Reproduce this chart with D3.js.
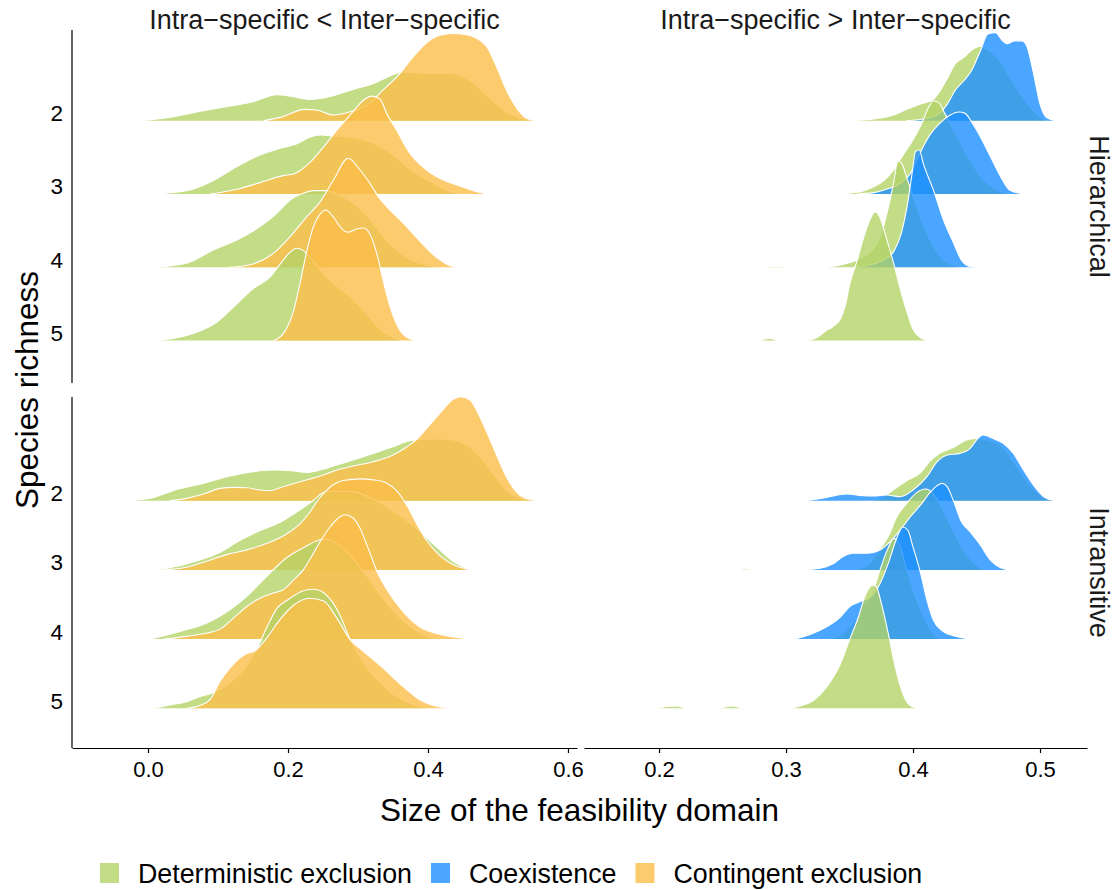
<!DOCTYPE html>
<html><head><meta charset="utf-8">
<script src="https://cdn.jsdelivr.net/npm/d3@7"></script>
<style>body{margin:0;background:#fff}</style>
</head><body>
<svg id="c" width="1114" height="890"></svg>
<script>
// ---------- categories ----------
const richness = ["2","3","4","5"];
const outcomes = ["Deterministic exclusion","Coexistence","Contingent exclusion"];
const facetCols = ["Intra\u2212specific < Inter\u2212specific","Intra\u2212specific > Inter\u2212specific"];
const facetRows = ["Hierarchical","Intransitive"];
const xTicksLt = [0.0,0.2,0.4,0.6];
const xTicksGt = [0.2,0.3,0.4,0.5];
const xTitle = "Size of the feasibility domain";
const yTitle = "Species richness";

// ---------- density curves: [feasibility size, scaled density] ----------
// Hierarchical, Intra < Inter
const hierLtDet2 = [[-0.011,0],[0.031,0.045],[0.079,0.136],[0.117,0.2],[0.150,0.259],[0.184,0.355],[0.208,0.327],[0.231,0.291],[0.255,0.318],[0.293,0.427],[0.322,0.509],[0.341,0.591],[0.360,0.655],[0.374,0.659],[0.403,0.645],[0.433,0.645],[0.450,0.6],[0.465,0.51],[0.480,0.38],[0.496,0.24],[0.512,0.12],[0.528,0.05],[0.548,0]];
const hierLtCont2 = [[0.165,0],[0.189,0.045],[0.224,0.155],[0.241,0.145],[0.265,0.077],[0.293,0.136],[0.317,0.236],[0.331,0.373],[0.360,0.645],[0.379,0.873],[0.398,1.064],[0.417,1.168],[0.436,1.191],[0.455,1.173],[0.470,1.123],[0.484,1.009],[0.498,0.736],[0.512,0.418],[0.527,0.168],[0.541,0.032],[0.555,0]];
const hierLtDet3 = [[0.005,0],[0.055,0.045],[0.093,0.182],[0.127,0.373],[0.160,0.532],[0.189,0.623],[0.212,0.682],[0.231,0.773],[0.246,0.805],[0.265,0.791],[0.293,0.773],[0.322,0.691],[0.350,0.532],[0.379,0.305],[0.408,0.145],[0.431,0.032],[0.450,0]];
const hierLtCont3 = [[0.089,0],[0.127,0.064],[0.160,0.155],[0.193,0.25],[0.208,0.273],[0.217,0.318],[0.231,0.427],[0.251,0.645],[0.270,0.873],[0.293,1.123],[0.308,1.282],[0.320,1.336],[0.331,1.30],[0.341,1.1],[0.355,0.873],[0.374,0.555],[0.398,0.327],[0.422,0.191],[0.441,0.123],[0.465,0.045],[0.484,0]];
const hierLtDet4 = [[0.010,0],[0.055,0.055],[0.093,0.236],[0.127,0.373],[0.160,0.555],[0.184,0.736],[0.203,0.918],[0.222,1.009],[0.236,1.045],[0.250,1.045],[0.274,0.982],[0.298,0.836],[0.322,0.6],[0.341,0.364],[0.365,0.16],[0.389,0.05],[0.417,0]];
const hierLtCont4 = [[0.117,0],[0.150,0.045],[0.179,0.19],[0.203,0.418],[0.227,0.691],[0.246,0.895],[0.265,1.19],[0.286,1.487],[0.303,1.327],[0.317,1.145],[0.329,0.964],[0.341,0.827],[0.365,0.6],[0.389,0.35],[0.412,0.136],[0.436,0.009],[0.442,0]];
const hierLtDet5 = [[0.017,0],[0.055,0.068],[0.098,0.25],[0.127,0.5],[0.150,0.705],[0.174,0.864],[0.189,1.045],[0.203,1.205],[0.212,1.259],[0.222,1.227],[0.231,1.136],[0.255,0.864],[0.284,0.636],[0.308,0.409],[0.331,0.159],[0.355,0.023],[0.364,0]];
const hierLtCont5 = [[0.179,0],[0.193,0.09],[0.208,0.409],[0.217,0.773],[0.227,1.227],[0.236,1.545],[0.246,1.727],[0.254,1.782],[0.265,1.682],[0.277,1.523],[0.286,1.477],[0.298,1.523],[0.308,1.536],[0.317,1.455],[0.327,1.182],[0.336,0.818],[0.346,0.455],[0.360,0.136],[0.374,0.023],[0.384,0]];
// Hierarchical, Intra > Inter
const hierGtDet2 = [[0.348,0],[0.369,0.023],[0.385,0.077],[0.395,0.155],[0.406,0.227],[0.416,0.291],[0.421,0.4],[0.427,0.577],[0.433,0.773],[0.440,0.864],[0.448,0.986],[0.453,1.018],[0.455,1.0],[0.466,0.864],[0.476,0.6],[0.487,0.3],[0.497,0.09],[0.505,0]];
const hierGtCoex2 = [[0.395,0],[0.408,0.023],[0.419,0.077],[0.427,0.227],[0.433,0.409],[0.440,0.545],[0.446,0.682],[0.453,0.95],[0.459,1.182],[0.465,1.2],[0.470,1.1],[0.474,1.05],[0.480,1.09],[0.486,1.09],[0.490,1.0],[0.495,0.636],[0.500,0.227],[0.505,0.045],[0.512,0]];
const hierGtDet3 = [[0.337,0],[0.356,0.023],[0.369,0.1],[0.377,0.182],[0.385,0.336],[0.392,0.527],[0.400,0.741],[0.407,0.968],[0.412,1.173],[0.416,1.268],[0.420,1.25],[0.425,1.1],[0.434,0.8],[0.445,0.455],[0.455,0.2],[0.466,0.055],[0.474,0]];
const hierGtCoex3 = [[0.356,0],[0.369,0.018],[0.379,0.064],[0.390,0.145],[0.398,0.282],[0.403,0.464],[0.408,0.645],[0.413,0.8],[0.421,0.964],[0.429,1.073],[0.436,1.118],[0.441,1.1],[0.446,0.986],[0.453,0.782],[0.461,0.509],[0.469,0.236],[0.476,0.055],[0.487,0]];
const hierGtDet4 = [[0.283,0],[0.292,0.012],[0.300,0],[0.328,0],[0.343,0.032],[0.356,0.1],[0.366,0.2],[0.373,0.364],[0.378,0.636],[0.382,0.927],[0.385,1.182],[0.388,1.45],[0.391,1.418],[0.395,1.227],[0.402,0.864],[0.410,0.5],[0.419,0.2],[0.429,0.045],[0.437,0]];
const hierGtCoex4 = [[0.353,0],[0.366,0.03],[0.377,0.1],[0.385,0.22],[0.391,0.48],[0.396,0.9],[0.399,1.25],[0.402,1.58],[0.405,1.6],[0.408,1.42],[0.416,1.055],[0.424,0.645],[0.432,0.327],[0.438,0.1],[0.445,0.009],[0.450,0]];
const hierGtDet5 = [[0.280,0],[0.287,0.03],[0.295,0],[0.316,0],[0.324,0.036],[0.331,0.127],[0.337,0.191],[0.343,0.3],[0.347,0.5],[0.350,0.755],[0.356,1.091],[0.361,1.4],[0.366,1.645],[0.370,1.755],[0.374,1.68],[0.379,1.4],[0.385,1.036],[0.390,0.7],[0.395,0.4],[0.400,0.155],[0.406,0.036],[0.411,0]];
// Intransitive, Intra < Inter
const intrLtDet2 = [[-0.026,0],[0.008,0.048],[0.041,0.164],[0.079,0.25],[0.117,0.356],[0.150,0.419],[0.179,0.443],[0.208,0.429],[0.227,0.409],[0.246,0.443],[0.270,0.515],[0.293,0.588],[0.322,0.684],[0.350,0.78],[0.374,0.867],[0.389,0.886],[0.417,0.891],[0.436,0.877],[0.455,0.805],[0.474,0.636],[0.493,0.395],[0.512,0.154],[0.531,0.034],[0.550,0]];
const intrLtCont2 = [[0.031,0],[0.055,0.034],[0.079,0.096],[0.103,0.178],[0.122,0.193],[0.141,0.188],[0.160,0.154],[0.174,0.145],[0.193,0.202],[0.217,0.275],[0.246,0.356],[0.270,0.443],[0.293,0.501],[0.322,0.564],[0.350,0.66],[0.370,0.78],[0.384,0.886],[0.398,1.045],[0.417,1.262],[0.436,1.464],[0.446,1.503],[0.460,1.455],[0.474,1.214],[0.493,0.78],[0.512,0.347],[0.531,0.082],[0.550,0.01],[0.565,0]];
const intrLtDet3 = [[0.012,0],[0.055,0.087],[0.103,0.255],[0.131,0.424],[0.160,0.568],[0.189,0.689],[0.212,0.833],[0.236,1.002],[0.251,1.118],[0.270,1.137],[0.293,1.127],[0.322,1.021],[0.350,0.858],[0.379,0.641],[0.408,0.371],[0.436,0.125],[0.460,0]];
const intrLtCont3 = [[0.022,0],[0.055,0.039],[0.084,0.125],[0.112,0.221],[0.141,0.289],[0.170,0.385],[0.198,0.52],[0.217,0.665],[0.231,0.833],[0.246,1.05],[0.260,1.195],[0.279,1.291],[0.303,1.315],[0.322,1.301],[0.341,1.253],[0.355,1.147],[0.370,0.931],[0.384,0.665],[0.398,0.424],[0.417,0.207],[0.436,0.077],[0.460,0]];
const intrLtDet4 = [[0.003,0],[0.046,0.111],[0.084,0.231],[0.117,0.424],[0.141,0.617],[0.160,0.809],[0.179,1.002],[0.198,1.175],[0.222,1.32],[0.246,1.435],[0.255,1.445],[0.274,1.35],[0.293,1.16],[0.312,0.92],[0.331,0.65],[0.350,0.41],[0.370,0.22],[0.389,0.08],[0.412,0]];
const intrLtCont4 = [[0.022,0],[0.055,0.039],[0.084,0.087],[0.103,0.144],[0.122,0.303],[0.141,0.472],[0.160,0.592],[0.179,0.665],[0.193,0.713],[0.208,0.857],[0.222,1.0],[0.234,1.2],[0.246,1.41],[0.260,1.62],[0.272,1.75],[0.281,1.797],[0.293,1.75],[0.303,1.6],[0.315,1.3],[0.327,0.98],[0.341,0.72],[0.365,0.39],[0.389,0.17],[0.412,0.08],[0.436,0.03],[0.465,0]];
const intrLtDet5 = [[0.008,0],[0.031,0.048],[0.055,0.096],[0.074,0.169],[0.091,0.217],[0.112,0.33],[0.136,0.55],[0.155,0.843],[0.170,1.175],[0.184,1.44],[0.203,1.59],[0.220,1.69],[0.234,1.72],[0.246,1.70],[0.260,1.58],[0.274,1.35],[0.289,0.99],[0.308,0.66],[0.331,0.38],[0.355,0.17],[0.379,0.05],[0.403,0]];
const intrLtCont5 = [[0.055,0],[0.074,0.04],[0.089,0.13],[0.103,0.39],[0.122,0.64],[0.141,0.79],[0.153,0.83],[0.170,1.02],[0.189,1.29],[0.208,1.49],[0.231,1.59],[0.251,1.55],[0.270,1.30],[0.289,0.99],[0.308,0.82],[0.336,0.58],[0.365,0.31],[0.389,0.12],[0.412,0.03],[0.431,0]];
// Intransitive, Intra > Inter
const intrGtDet2 = [[0.369,0],[0.377,0.058],[0.385,0.164],[0.395,0.289],[0.406,0.405],[0.413,0.564],[0.421,0.684],[0.432,0.771],[0.442,0.877],[0.449,0.90],[0.458,0.877],[0.469,0.80],[0.479,0.56],[0.490,0.27],[0.500,0.08],[0.508,0]];
const intrGtCoex2 = [[0.316,0],[0.332,0.048],[0.348,0.096],[0.358,0.077],[0.369,0.067],[0.379,0.082],[0.390,0.058],[0.400,0.154],[0.411,0.347],[0.419,0.563],[0.427,0.66],[0.437,0.684],[0.445,0.756],[0.450,0.877],[0.455,0.949],[0.463,0.90],[0.471,0.828],[0.479,0.684],[0.487,0.443],[0.495,0.222],[0.503,0.058],[0.512,0]];
const intrGtDet3 = [[0.262,0],[0.268,0.015],[0.274,0],[0.353,0],[0.366,0.1],[0.374,0.3],[0.381,0.5],[0.387,0.76],[0.395,0.96],[0.403,1.12],[0.410,1.17],[0.416,1.10],[0.424,0.85],[0.432,0.55],[0.440,0.28],[0.448,0.1],[0.455,0]];
const intrGtCoex3 = [[0.311,0],[0.327,0.024],[0.337,0.087],[0.345,0.193],[0.353,0.241],[0.364,0.241],[0.374,0.289],[0.382,0.409],[0.390,0.578],[0.398,0.77],[0.406,0.94],[0.413,1.108],[0.420,1.23],[0.423,1.25],[0.427,1.20],[0.432,0.99],[0.438,0.70],[0.445,0.55],[0.453,0.36],[0.461,0.14],[0.469,0.03],[0.476,0]];
const intrGtDet4 = [[0.206,0],[0.212,0.012],[0.219,0],[0.256,0],[0.264,0.012],[0.272,0],[0.332,0],[0.343,0.06],[0.350,0.18],[0.357,0.32],[0.364,0.52],[0.369,0.71],[0.374,1.0],[0.380,1.3],[0.385,1.455],[0.390,1.33],[0.395,1.0],[0.403,0.56],[0.411,0.23],[0.419,0.03],[0.424,0]];
const intrGtCoex4 = [[0.306,0],[0.319,0.067],[0.332,0.178],[0.343,0.323],[0.350,0.467],[0.358,0.54],[0.366,0.60],[0.374,0.80],[0.381,1.12],[0.387,1.45],[0.392,1.62],[0.396,1.57],[0.400,1.33],[0.406,0.95],[0.411,0.56],[0.416,0.275],[0.423,0.12],[0.432,0.05],[0.442,0.01],[0.448,0]];
const intrGtDet5 = [[0.198,0],[0.213,0.034],[0.224,0],[0.245,0],[0.257,0.034],[0.269,0],[0.301,0],[0.311,0.034],[0.322,0.12],[0.332,0.31],[0.343,0.65],[0.350,0.99],[0.357,1.32],[0.362,1.61],[0.368,1.78],[0.371,1.76],[0.375,1.52],[0.381,1.04],[0.386,0.60],[0.391,0.265],[0.396,0.072],[0.403,0]];

// series table: facet row, facet col, richness, outcome index, curve
const series = [
  [0,0,"2",0,hierLtDet2],[0,0,"2",2,hierLtCont2],[0,0,"3",0,hierLtDet3],[0,0,"3",2,hierLtCont3],
  [0,0,"4",0,hierLtDet4],[0,0,"4",2,hierLtCont4],[0,0,"5",0,hierLtDet5],[0,0,"5",2,hierLtCont5],
  [0,1,"2",0,hierGtDet2],[0,1,"2",1,hierGtCoex2],[0,1,"3",0,hierGtDet3],[0,1,"3",1,hierGtCoex3],
  [0,1,"4",0,hierGtDet4],[0,1,"4",1,hierGtCoex4],[0,1,"5",0,hierGtDet5],
  [1,0,"2",0,intrLtDet2],[1,0,"2",2,intrLtCont2],[1,0,"3",0,intrLtDet3],[1,0,"3",2,intrLtCont3],
  [1,0,"4",0,intrLtDet4],[1,0,"4",2,intrLtCont4],[1,0,"5",0,intrLtDet5],[1,0,"5",2,intrLtCont5],
  [1,1,"2",0,intrGtDet2],[1,1,"2",1,intrGtCoex2],[1,1,"3",0,intrGtDet3],[1,1,"3",1,intrGtCoex3],
  [1,1,"4",0,intrGtDet4],[1,1,"4",1,intrGtCoex4],[1,1,"5",0,intrGtDet5]
].map(d=>({row:d[0],col:d[1],rich:d[2],out:d[3],pts:d[4]}));

// ---------- drawing ----------
const FONT = "'Liberation Sans', Arial, Helvetica, sans-serif";
const colors = ["#B4D368","#1E90FF","#FBBE4A"];
const svg = d3.select("#c");
svg.append("rect").attr("width",1114).attr("height",890).attr("fill","#fff");

const colLayout = [
  {x0:72, x1:577, dom:[-0.1086,0.6129], ticks:xTicksLt},
  {x0:584, x1:1087, dom:[0.1409,0.537], ticks:xTicksGt}
];
const rowLayout = [
  {y0:30, y1:383, b0:120.7, b1:340.5},
  {y0:397, y1:748, b0:500.7, b1:708.3}
];

rowLayout.forEach((rl,ri)=>{
  const yb = d3.scalePoint().domain(richness).range([rl.b0, rl.b1]);
  const hs = d3.scaleLinear().domain([0,1]).range([0,yb.step()]);
  colLayout.forEach((cl,ci)=>{
    const x = d3.scaleLinear().domain(cl.dom).range([cl.x0,cl.x1]);
    const g = svg.append("g");
    richness.forEach(r=>{
      const base = yb(r);
      outcomes.forEach((o,oi)=>{
        const s = series.find(d=>d.row===ri&&d.col===ci&&d.rich===r&&d.out===oi);
        if(!s) return;
        const area = d3.area().x(d=>x(d[0])).y0(base).y1(d=>base-hs(d[1])).curve(d3.curveMonotoneX);
        const line = d3.line().x(d=>x(d[0])).y(d=>base-hs(d[1])).curve(d3.curveMonotoneX);
        g.append("path").attr("d",area(s.pts)).attr("fill",colors[oi]).attr("fill-opacity",0.8);
        g.append("path").attr("d",line(s.pts)).attr("fill","none").attr("stroke","#fff").attr("stroke-width",1.1);
      });
    });
    // facet column strips
    if(ri===0){
      svg.append("text").attr("x",(cl.x0+cl.x1)/2).attr("y",28.5).attr("text-anchor","middle")
        .attr("font-family",FONT).attr("font-size",27).attr("fill","#1a1a1a").text(facetCols[ci]);
    }
    // x axis
    if(ri===1){
      const ax = d3.axisBottom(x).tickValues(cl.ticks).tickFormat(d3.format(".1f"))
        .tickSizeInner(5).tickSizeOuter(0).tickPadding(8);
      const ga = svg.append("g").attr("transform","translate(0,748)").call(ax);
      ga.select(".domain").attr("stroke","#000").attr("stroke-width",1.2);
      ga.selectAll(".tick line").attr("stroke","#000").attr("stroke-width",1.2);
      ga.selectAll(".tick text").attr("font-family",FONT).attr("font-size",22).attr("fill","#000");
    }
  });
  // y axis
  svg.append("line").attr("x1",72).attr("x2",72).attr("y1",rl.y0).attr("y2",rl.y1)
    .attr("stroke","#000").attr("stroke-width",1.2);
  const ay = d3.axisLeft(yb).tickSize(0).tickPadding(9);
  const gy = svg.append("g").attr("transform","translate(72,0)").call(ay);
  gy.select(".domain").remove();
  gy.selectAll(".tick text").attr("dy","0").attr("font-family",FONT).attr("font-size",22.5).attr("fill","#000");
  // facet row strip
  const cy = (rl.y0+rl.y1)/2;
  svg.append("text").attr("transform",`translate(1090,${cy}) rotate(90)`).attr("text-anchor","middle")
    .attr("font-family",FONT).attr("font-size",27).attr("fill","#1a1a1a").text(facetRows[ri]);
});

// axis titles
svg.append("text").attr("x",579.5).attr("y",820.5).attr("text-anchor","middle")
  .attr("font-family",FONT).attr("font-size",31.5).attr("fill","#000").text(xTitle);
svg.append("text").attr("transform","translate(38,390) rotate(-90)").attr("text-anchor","middle")
  .attr("font-family",FONT).attr("font-size",31.5).attr("fill","#000").text(yTitle);

// legend
const lg = svg.append("g");
let lx = 100;
const keyW = 19, keyH = 20, ly = 863;
outcomes.forEach((o,i)=>{
  lg.append("rect").attr("x",lx).attr("y",ly).attr("width",keyW).attr("height",keyH)
    .attr("fill",colors[i]).attr("fill-opacity",0.8);
  const t = lg.append("text").attr("x",lx+keyW+19).attr("y",ly+keyH/2+9.5)
    .attr("font-family",FONT).attr("font-size",26.8).attr("fill","#000").text(o);
  lx = lx + keyW + 19 + t.node().getComputedTextLength() + 19;
});
</script>
</body></html>
